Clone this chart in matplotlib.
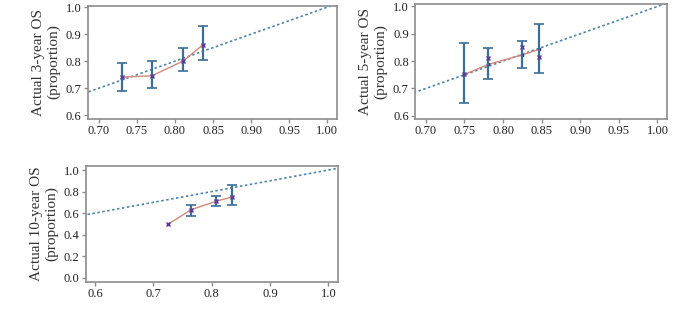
import numpy as np
import matplotlib.pyplot as plt

plt.rcParams['font.family'] = ['Liberation Serif', 'DejaVu Serif']

# 3-year
x3 = [0.731, 0.770, 0.811, 0.837]
pred3 = [0.741, 0.746, 0.801, 0.861]
obs3 = [0.741, 0.746, 0.801, 0.861]
lo3 = [0.691, 0.700, 0.765, 0.805]
hi3 = [0.793, 0.799, 0.847, 0.932]

# 5-year
x5 = [0.750, 0.781, 0.824, 0.847]
pred5 = [0.751, 0.788, 0.822, 0.843]
obs5 = [0.751, 0.812, 0.853, 0.815]
lo5 = [0.648, 0.736, 0.775, 0.757]
hi5 = [0.868, 0.847, 0.874, 0.936]

# 10-year
x10 = [0.725, 0.765, 0.808, 0.834]
pred10 = [0.496, 0.632, 0.711, 0.748]
obs10 = [0.496, 0.625, 0.711, 0.748]
lo10 = [np.nan, 0.573, 0.665, 0.671]
hi10 = [np.nan, 0.678, 0.763, 0.865]

err_col = '#3c6e98'
line_col = '#d4887a'
diag_col = '#4f84ad'
mark_col = '#5b3c9c'
spine_col = '#8c8c8c'

fig = plt.figure(figsize=(7, 3.21), dpi=100)

def panel(rect, x, pred, obs, lo, hi, ylab, xlim, ylim, xt, yt, xfmt, yfmt):
    ax = fig.add_axes(rect)
    d = np.linspace(0, 1.1, 50)
    ax.plot(d, d, ls=(0, (1.5, 1.5)), color=diag_col, lw=1.2)
    ax.plot(x, pred, color=line_col, lw=1.0, marker='s', ms=1.5,
            mfc='#3a2a6a', mec='#3a2a6a')
    pred = np.array(pred)
    lo = np.array(lo)
    hi = np.array(hi)
    ok = ~np.isnan(lo)
    ax.errorbar(np.array(x)[ok], pred[ok], yerr=[pred[ok] - lo[ok], hi[ok] - pred[ok]],
                fmt='none', ecolor=err_col, elinewidth=1.6, capsize=3.5, capthick=1.2)
    ax.plot(x, obs, ls='none', marker='x', ms=3.5, mew=1.0, color=mark_col)
    ax.set_xlim(xlim)
    ax.set_ylim(ylim)
    ax.set_xticks(xt)
    ax.set_yticks(yt)
    ax.set_xticklabels([xfmt % v for v in xt])
    ax.set_yticklabels([yfmt % v for v in yt])
    for s in ax.spines.values():
        s.set_color(spine_col)
        s.set_linewidth(1.2)
    ax.tick_params(colors=spine_col, labelcolor='#222222', labelsize=9,
                   length=3, width=1, pad=1.5)
    ax.set_ylabel(ylab, fontsize=11, color='#333333', labelpad=4, linespacing=1.15)
    return ax

panel([88 / 700, 1 - 118.5 / 321, 249.3 / 700, 113 / 321], x3, pred3, obs3, lo3, hi3,
      'Actual 3-year OS\n(proportion)', (0.686, 1.013), (0.588, 1.006),
      [0.70, 0.75, 0.80, 0.85, 0.90, 0.95, 1.00], [0.6, 0.7, 0.8, 0.9, 1.0], '%.2f', '%.1f')
panel([415 / 700, 1 - 119 / 321, 251.7 / 700, 114.7 / 321], x5, pred5, obs5, lo5, hi5,
      'Actual 5-year OS\n(proportion)', (0.686, 1.012), (0.588, 1.008),
      [0.70, 0.75, 0.80, 0.85, 0.90, 0.95, 1.00], [0.6, 0.7, 0.8, 0.9, 1.0], '%.2f', '%.1f')
panel([85.7 / 700, 1 - 281.7 / 321, 252 / 700, 116 / 321], x10, pred10, obs10, lo10, hi10,
      'Actual 10-year OS\n(proportion)', (0.584, 1.016), (-0.037, 1.04),
      [0.6, 0.7, 0.8, 0.9, 1.0], [0.0, 0.2, 0.4, 0.6, 0.8, 1.0], '%.1f', '%.1f')

fig.savefig('out.png', dpi=100)
